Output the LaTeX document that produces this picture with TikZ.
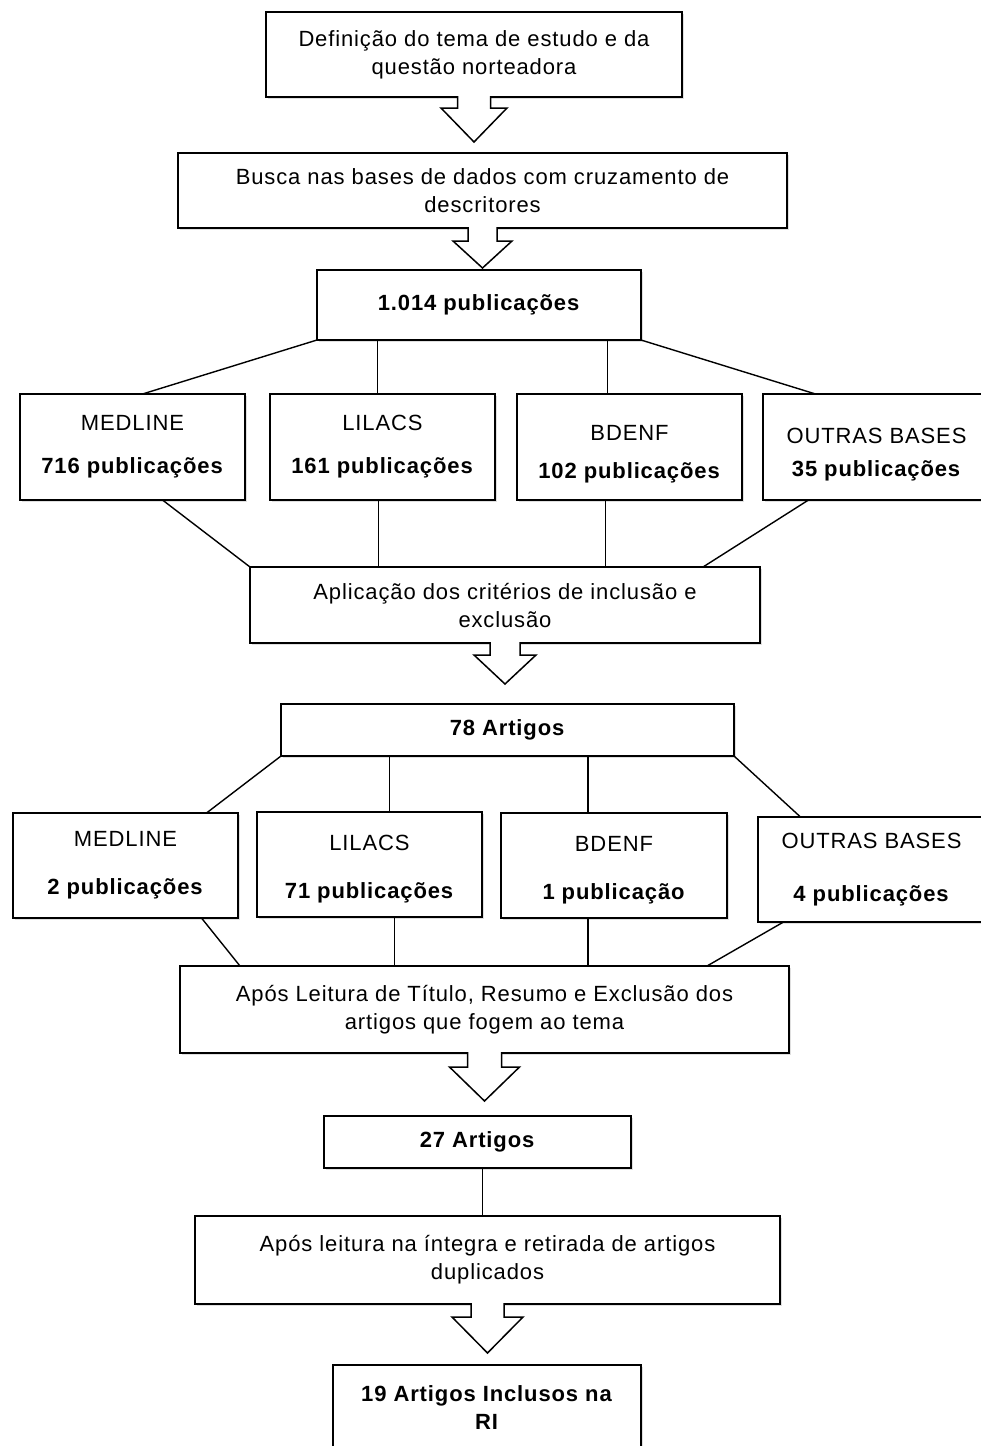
\documentclass[tikz,border=0pt]{standalone}
\usepackage{fontspec}
\setmainfont{Liberation Sans}[LetterSpace=4]
\usetikzlibrary{shadows}
\tikzset{
  box/.style={draw, line width=1.6pt, fill=white, inner sep=0pt, outer sep=0pt,
    align=center, anchor=north west,
    drop shadow={shadow xshift=1.5pt, shadow yshift=-1.5pt, opacity=0.25}},
  link/.style={line width=1.4pt},
  blockarrow/.style={line width=1.5pt, fill=white, line join=miter}
}
%% #1 anchor, #2 total length, #3 half shaft, #4 half head, #5 shaft length
\newcommand\flowarrow[5]{%
  \draw[blockarrow] (#1) ++(-#3,-1) -- ++(0,#5+1) -- ++(#3-#4,0)
    -- ++(#4,#2-#5) -- ++(#4,#5-#2) -- ++(#3-#4,0) -- ++(0,-#5-1);}

\begin{document}
\begin{tikzpicture}[x=1pt, y=-1pt, font=\fontsize{22}{28}\selectfont]

  \clip (0,0) rectangle (981,1446);

  %% boxes
  \node[box, minimum width=416, minimum height=85] (tema) at (266,12)
    {Definição do tema de estudo e da\\questão norteadora};
  \node[box, minimum width=609, minimum height=75] (busca) at (178,153)
    {Busca nas bases de dados com cruzamento de\\descritores};
  \node[box, minimum width=324, minimum height=70] (total) at (317,270)
    {\textbf{1.014 publicações}};

  \node[box, minimum width=225, minimum height=106] (medA) at (20,394)
    {MEDLINE\\[15pt]\textbf{716 publicações}};
  \node[box, minimum width=225, minimum height=106] (lilA) at (270,394)
    {LILACS\\[15pt]\textbf{161 publicações}};
  \node[box, minimum width=225, minimum height=106] (bdeA) at (517,394)
    {\rule{0pt}{30pt}BDENF\\[10pt]\textbf{102 publicações}};
  \node[box, minimum width=227, minimum height=106] (outA) at (763,394)
    {\rule{0pt}{30pt}OUTRAS BASES\\[5pt]\textbf{35 publicações}};

  \node[box, minimum width=510, minimum height=76] (criterio) at (250,567)
    {Aplicação dos critérios de inclusão e\\exclusão};
  \node[box, minimum width=453, minimum height=52] (artA) at (281,704)
    {\textbf{78 Artigos}};

  \node[box, minimum width=225, minimum height=105] (medB) at (13,813)
    {MEDLINE\\[20pt]\textbf{2 publicações}};
  \node[box, minimum width=225, minimum height=105] (lilB) at (257,812)
    {\rule{0pt}{24pt}LILACS\\[20pt]\textbf{71 publicações}};
  \node[box, minimum width=226, minimum height=105] (bdeB) at (501,813)
    {\rule{0pt}{24pt}BDENF\\[20pt]\textbf{1 publicação}};
  \node[box, minimum width=227, minimum height=105] (outB) at (758,817)
    {OUTRAS BASES\\[25pt]\textbf{4 publicações}};

  \node[box, minimum width=609, minimum height=87] (leitura) at (180,966)
    {Após Leitura de Título, Resumo e Exclusão dos\\artigos que fogem ao tema};
  \node[box, minimum width=307, minimum height=52] (artB) at (324,1116)
    {\textbf{27 Artigos}};
  \node[box, minimum width=585, minimum height=88] (integra) at (195,1216)
    {Após leitura na íntegra e retirada de artigos\\duplicados};
  \node[box, minimum width=308, minimum height=86] (final) at (333,1365)
    {\textbf{19 Artigos Inclusos na}\\\textbf{RI}};

  %% block arrows
  \flowarrow{tema.south}{45}{16.5}{33}{11}
  \flowarrow{busca.south}{40}{14.5}{29.5}{13}
  \flowarrow{criterio.south}{41}{15}{31}{12}
  \flowarrow{leitura.south}{48}{17}{35}{14}
  \flowarrow{integra.south}{49}{16.5}{35.5}{13}

  %% first split
  \draw[link] (total.south west) -- ([xshift=10pt]medA.north);
  \draw[link] ([xshift=-5pt]lilA.north) -- ([xshift=-5pt]lilA.north |- total.south);
  \draw[link] ([xshift=-22pt]bdeA.north) -- ([xshift=-22pt]bdeA.north |- total.south);
  \draw[link] (total.south east) -- ([xshift=-61pt]outA.north);

  \draw[link] ([xshift=30pt]medA.south) -- (criterio.north west);
  \draw[link] ([xshift=-4pt]lilA.south) -- ([xshift=-4pt]lilA.south |- criterio.north);
  \draw[link] ([xshift=-24pt]bdeA.south) -- ([xshift=-24pt]bdeA.south |- criterio.north);
  \draw[link] ([xshift=-68pt]outA.south) -- ([xshift=-57pt]criterio.north east);

  %% second split
  \draw[link] (artA.south west) -- ([xshift=81pt]medB.north);
  \draw[link] ([xshift=20pt]lilB.north) -- ([xshift=20pt]lilB.north |- artA.south);
  \draw[link] ([xshift=-26pt]bdeB.north) -- ([xshift=-26pt]bdeB.north |- artA.south);
  \draw[link] (artA.south east) -- ([xshift=-71pt]outB.north);

  \draw[link] ([xshift=76pt]medB.south) -- ([xshift=60pt]leitura.north west);
  \draw[link] ([xshift=25pt]lilB.south) -- ([xshift=25pt]lilB.south |- leitura.north);
  \draw[link] ([xshift=-26pt]bdeB.south) -- ([xshift=-26pt]bdeB.south |- leitura.north);
  \draw[link] ([xshift=-88pt]outB.south) -- ([xshift=-82pt]leitura.north east);

  \draw[link] ([xshift=5pt]artB.south) -- ([xshift=5pt]artB.south |- integra.north);

\end{tikzpicture}
\end{document}
